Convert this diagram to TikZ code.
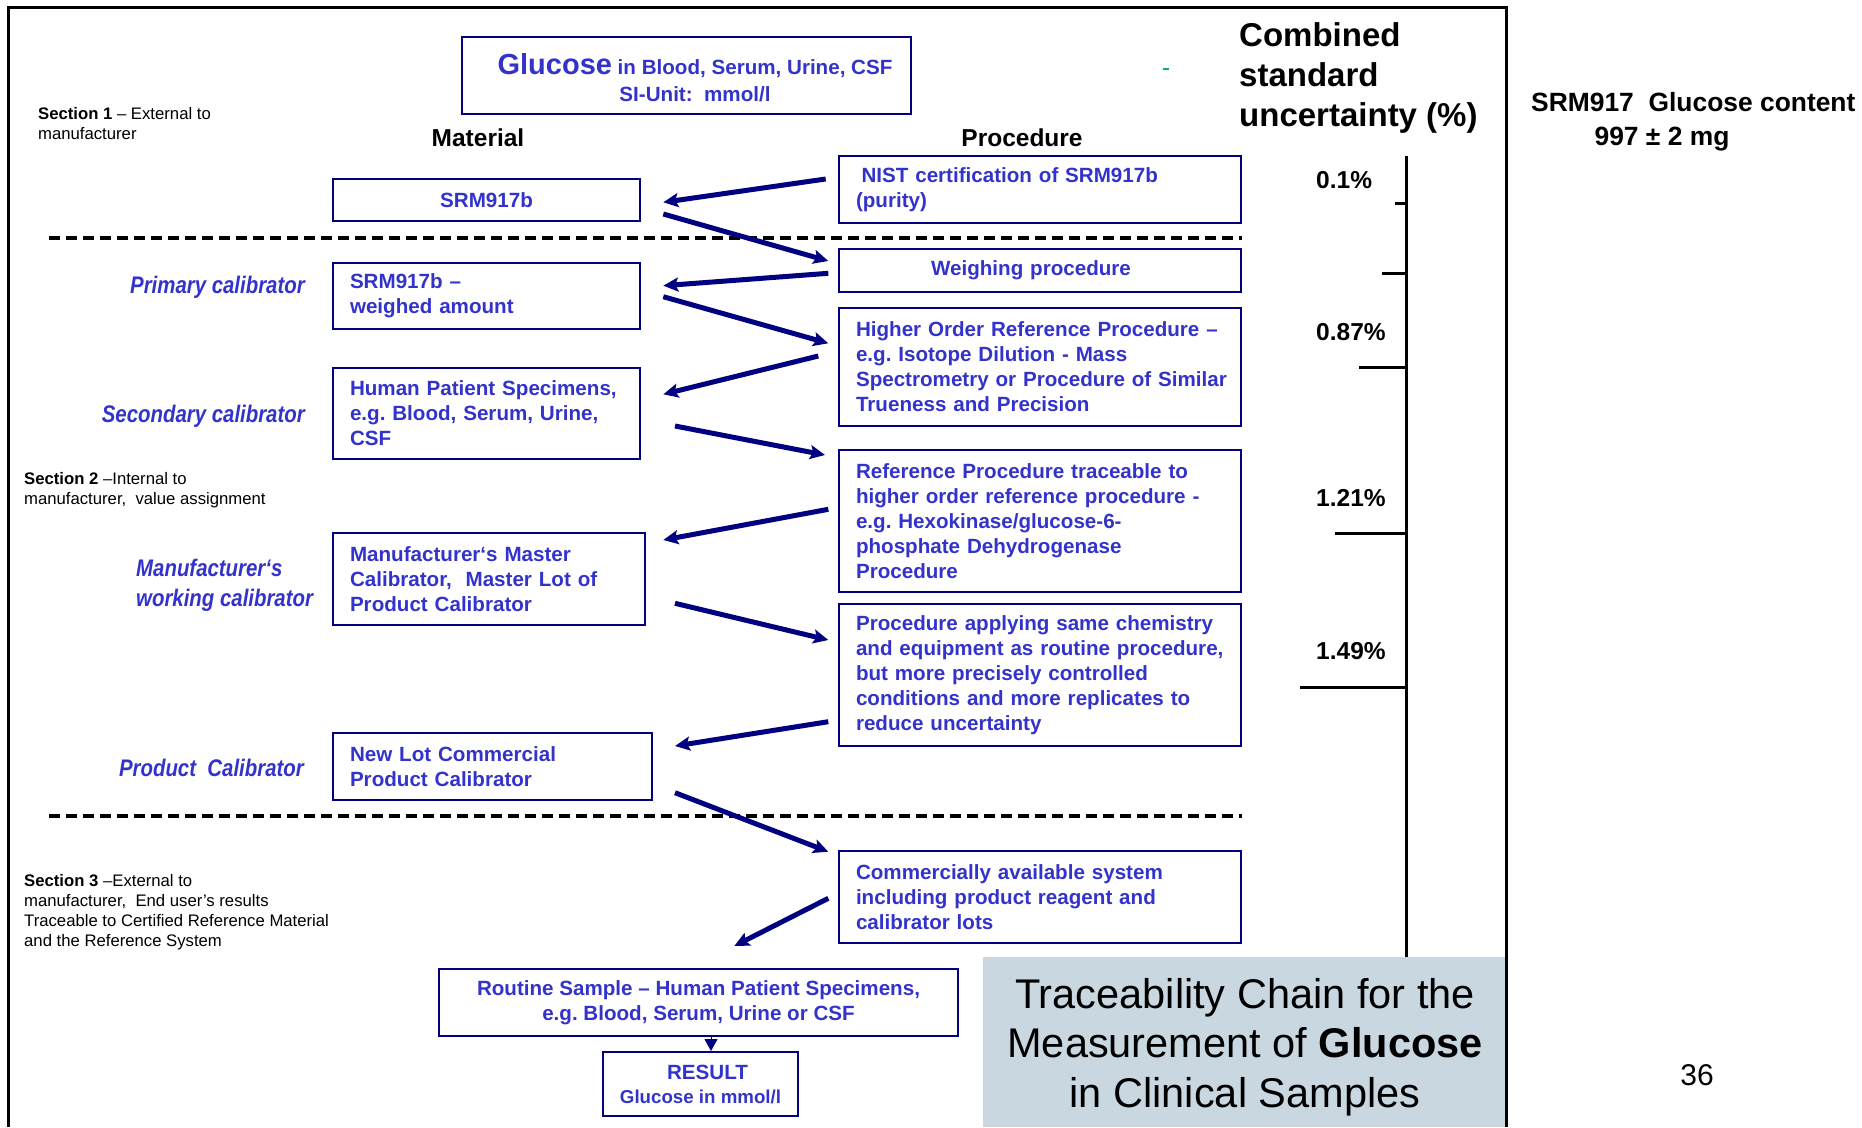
\documentclass[tikz,border=0pt]{standalone}
\usepackage{fontspec}
\setmainfont{Liberation Sans}
\newfontfamily\narrowfont[FakeStretch=0.85]{Liberation Sans}
\usetikzlibrary{arrows.meta}
\definecolor{txtblue}{RGB}{51,51,204}
\definecolor{navyc}{RGB}{0,0,128}
\definecolor{grayblue}{RGB}{201,215,224}
\definecolor{tealc}{RGB}{0,176,140}
\newcommand{\fsz}[2]{\fontsize{#1pt}{#2pt}\selectfont}
\frenchspacing
\begin{document}
\begin{tikzpicture}[x=1pt,y=-1pt,
  box/.style={draw=navyc, line width=2.5pt, inner ysep=0pt, inner xsep=17pt, text=txtblue, font=\bfseries\fsz{20.6}{25}},
  lbox/.style={box, align=left},
  cbox/.style={box, align=center},
  arr/.style={draw=navyc, line width=5pt, -{Stealth[length=15pt,width=14pt,inset=3pt]}},
  sect/.style={font=\fsz{16.7}{20}, align=left, inner sep=0pt, anchor=west},
  ital/.style={text=txtblue, font=\narrowfont\bfseries\itshape\fsz{24}{30}, inner sep=0pt},
  hdr/.style={font=\bfseries\fsz{24.5}{30}, inner sep=0pt},
  pct/.style={font=\bfseries\fsz{24.5}{30}, inner sep=0pt, anchor=west},
  axisline/.style={line width=3pt, black},
  dashline/.style={line width=4pt, black, dash pattern=on 11pt off 6pt}
]
\useasboundingbox (0,0) rectangle (1862,1127);

% gray title box
\node[fill=grayblue, minimum width=524pt, minimum height=170pt, inner sep=0pt] (gbox) at (1245,1042) {};
\node[font=\fsz{41.5}{49.5}, align=center, inner sep=0pt] (gtitle) at (1245,1047)
  {Traceability Chain for the\\Measurement of \textbf{Glucose}\\in Clinical Samples};

% frame
\draw[line width=3pt, black] (8.5,1127) -- (8.5,7) -- (1506,7) -- (1506,1127);

% title
\node[draw=navyc, line width=2.5pt, minimum width=449pt, minimum height=77pt, inner sep=0pt] (title) at (686.5,75.5) {};
\node[text=txtblue, font=\bfseries\fsz{20.6}{27}, align=center, inner sep=0pt] (titletxt) at (695,78)
  {{\fsz{29}{27}Glucose} in Blood, Serum, Urine, CSF\\SI-Unit:\ \ mmol/l};
\draw[tealc, line width=1.5pt] (1163,69) -- (1169,69);

% headers
\node[hdr] (mat) at (478,138) {Material};
\node[hdr] (proc) at (1022,138) {Procedure};
\node[font=\bfseries\fsz{33}{40}, align=left, inner sep=0pt, anchor=west] (csu) at (1239,78)
  {Combined\\standard\\uncertainty (\%)};
\node[font=\bfseries\fsz{26.4}{32}, inner sep=0pt, anchor=west] (srmc) at (1531,102) {SRM917\ \ Glucose content};
\node[font=\bfseries\fsz{26.4}{32}, inner sep=0pt] (srmm) at (1662,139) {997 ± 2 mg};
\node[font=\fsz{30}{36}, inner sep=0pt] (pg) at (1697,1075) {36};

% section texts
\node[sect] (s1) at (38,124) {\textbf{Section 1} – External to\\manufacturer};
\node[sect] (s2) at (24,490.5) {\textbf{Section 2} –Internal to\\manufacturer,\ \ value assignment};
\node[sect] (s3) at (24,912) {\textbf{Section 3} –External to\\manufacturer,\ \ End user’s results\\Traceable to Certified Reference Material\\and the Reference System};

% italic labels
\node[ital, anchor=east] (lprim) at (305,287) {Primary calibrator};
\node[ital, anchor=east] (lsec) at (305,416) {Secondary calibrator};
\node[ital, anchor=west, align=left] (lman) at (136,585) {Manufacturer‘s\\working calibrator};
\node[ital, anchor=east] (lprod) at (304,768) {Product\ \ Calibrator};

% dashed separators
\draw[dashline] (49,238) -- (1242,238);
\draw[dashline] (49,816) -- (1242,816);

% material boxes
\node[cbox, minimum width=307pt, minimum height=42pt] (srm) at (486.5,200) {SRM917b};
\node[lbox, text width=273pt, minimum height=66pt] (prim) at (486.5,296) {SRM917b –\\weighed amount};
\node[lbox, text width=273pt, minimum height=91pt] (human) at (486.5,413.5) {Human Patient Specimens,\\e.g. Blood, Serum, Urine,\\CSF};
\node[lbox, text width=278pt, minimum height=92pt] (master) at (489,579) {Manufacturer‘s Master\\Calibrator,\ \ Master Lot of\\Product Calibrator};
\node[lbox, text width=285pt, minimum height=67pt] (newlot) at (492.5,766.5) {New Lot Commercial\\Product Calibrator};

% procedure boxes
\node[lbox, text width=368pt, minimum height=67pt] (nist) at (1040,189.5) {\hspace*{5.5pt}NIST certification of SRM917b\\(purity)};
\node[lbox, text width=368pt, minimum height=43pt] (weigh) at (1040,270.5) {\hspace*{75pt}Weighing procedure};
\node[lbox, text width=368pt, minimum height=118pt] (higher) at (1040,367) {Higher Order Reference Procedure –\\e.g. Isotope Dilution - Mass\\\mbox{Spectrometry or Procedure of Similar}\\Trueness and Precision};
\node[lbox, text width=368pt, minimum height=142pt] (refp) at (1040,521) {Reference Procedure traceable to\\higher order reference procedure -\\e.g. Hexokinase/glucose-6-\\phosphate Dehydrogenase\\Procedure};
\node[lbox, text width=368pt, minimum height=142pt] (papp) at (1040,675) {Procedure applying same chemistry\\\mbox{and equipment as routine procedure,}\\but more precisely controlled\\conditions and more replicates to\\reduce uncertainty};
\node[lbox, text width=368pt, minimum height=92pt] (comm) at (1040,897) {Commercially available system\\including product reagent and\\calibrator lots};

% bottom boxes
\node[cbox, minimum width=519pt, minimum height=67pt] (routine) at (698.5,1002.5) {Routine Sample – Human Patient Specimens,\\e.g. Blood, Serum, Urine or CSF};
\node[cbox, minimum width=193pt, minimum height=64pt, font=\bfseries\fsz{20.6}{24}] (result) at (700.5,1084) {\hspace*{14pt}RESULT\\{\fsz{18.7}{24}Glucose in mmol/l}};

% uncertainty axis
\draw[axisline] (1406,156) -- (1406,957);
\draw[axisline] (1395,203) -- (1406,203);
\draw[axisline] (1382,273) -- (1406,273);
\draw[axisline] (1359,367) -- (1406,367);
\draw[axisline] (1335,533) -- (1406,533);
\draw[axisline] (1300,687) -- (1406,687);
\node[pct] (p1) at (1316,180) {0.1\%};
\node[pct] (p2) at (1316,332) {0.87\%};
\node[pct] (p3) at (1316,498) {1.21\%};
\node[pct] (p4) at (1316,651) {1.49\%};

% arrow end points
\coordinate (a1s) at (825.7,179);   \coordinate (a1e) at (663.3,202.3);
\coordinate (a2s) at (663.3,214);   \coordinate (a2e) at (828.3,261);
\coordinate (a3s) at (828.3,273.3); \coordinate (a3e) at (663.3,285.7);
\coordinate (a4s) at (663.3,296.7); \coordinate (a4e) at (828.3,343.3);
\coordinate (a5s) at (818.3,356);   \coordinate (a5e) at (663.3,394.3);
\coordinate (a6s) at (675,426);     \coordinate (a6e) at (825,455);
\coordinate (a7s) at (828.3,509.3); \coordinate (a7e) at (663.3,540);
\coordinate (a8s) at (675,603.3);   \coordinate (a8e) at (828.3,640);
\coordinate (a9s) at (828.3,721.7); \coordinate (a9e) at (675,746);
\coordinate (a10s) at (675,792.7);  \coordinate (a10e) at (828.3,851.7);
\coordinate (a11s) at (828.3,898.3); \coordinate (a11e) at (734.3,946);
\coordinate (a12s) at (711,1037);   \coordinate (a12e) at (711,1051);

\draw[arr] (a1s) -- (a1e);
\draw[arr] (a2s) -- (a2e);
\draw[arr] (a3s) -- (a3e);
\draw[arr] (a4s) -- (a4e);
\draw[arr] (a5s) -- (a5e);
\draw[arr] (a6s) -- (a6e);
\draw[arr] (a7s) -- (a7e);
\draw[arr] (a8s) -- (a8e);
\draw[arr] (a9s) -- (a9e);
\draw[arr] (a10s) -- (a10e);
\draw[arr] (a11s) -- (a11e);
\draw[draw=navyc, line width=1pt, -{Triangle[length=12pt,width=13pt]}] (a12s) -- (a12e);
\end{tikzpicture}
\end{document}
